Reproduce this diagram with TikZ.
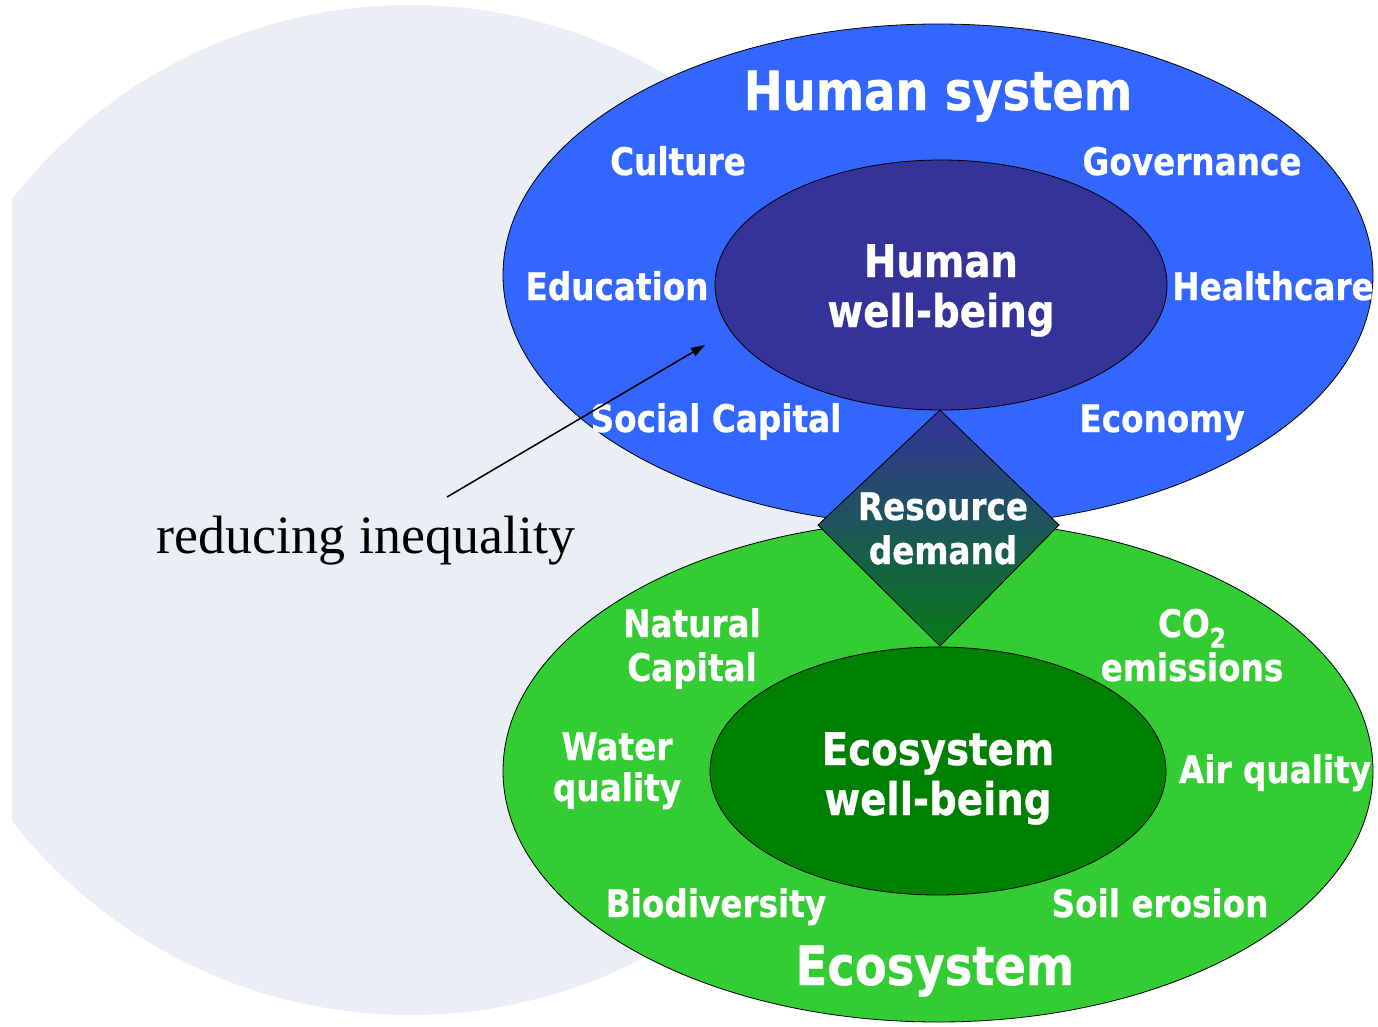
\documentclass[tikz,border=0pt]{standalone}
\usepackage{fontspec}
\setmainfont{Liberation Serif}
\newfontfamily\vf{DejaVu Sans}[FakeStretch=0.86, BoldFeatures={FakeBold=0.7}]
\usetikzlibrary{arrows.meta}
\definecolor{pale}{HTML}{EAEFF6}
\definecolor{hblue}{HTML}{3366FF}
\definecolor{hdark}{HTML}{333399}
\definecolor{egreen}{HTML}{33CC33}
\definecolor{edark}{HTML}{008000}
\definecolor{ddark}{HTML}{067A16}
\tikzset{
  lbl/.style={font=\vf\bfseries\fontsize{38}{44}\selectfont, text=white, inner sep=0pt, anchor=base, align=center},
  innertxt/.style={lbl, font=\vf\bfseries\fontsize{45}{50}\selectfont},
  titletxt/.style={lbl, font=\vf\bfseries\fontsize{54}{60}\selectfont},
  outline/.style={draw=black, line width=0.8pt},
  annot/.style={font=\fontsize{54}{60}\selectfont, text=black, inner sep=0pt, anchor=base},
  pointer/.style={draw=black, line width=1.5pt, -{Triangle[length=14pt, width=9pt]}}
}
\begin{document}
\begin{tikzpicture}[x=1pt, y=-1pt]
\useasboundingbox (0,0) rectangle (1378,1026);
% pale background disc, cut at the left
\begin{scope}
  \clip (12,0) rectangle (1378,1026);
  \fill[pale] (410,510) circle [x radius=505pt, y radius=505pt];
\end{scope}
% outer ellipses
\path[outline, fill=hblue] (938,275) ellipse [x radius=435pt, y radius=251pt];
\path[outline, fill=egreen] (938,771) ellipse [x radius=435pt, y radius=251pt];
% inner ellipses
\path[outline, fill=hdark] (941,285) ellipse [x radius=226pt, y radius=125pt];
\path[outline, fill=edark] (938,771) ellipse [x radius=228pt, y radius=124pt];
% diamond
\path[outline, top color=hdark, bottom color=ddark] (940,410) -- (1059,525) -- (940,646) -- (818,525) -- cycle;
% titles
\node[titletxt] (hsys) at (938,110) {Human system};
\node[titletxt] (esys) at (935,985) {Ecosystem};
% human labels
\node[lbl] (culture) at (678,175) {Culture};
\node[lbl] (gov) at (1192,175) {Governance};
\node[lbl] (edu) at (617,300) {Education};
\node[lbl] (health) at (1273,300) {Healthcare};
\node[lbl] (social) at (716,432) {Social Capital};
\node[lbl] (econ) at (1162,432) {Economy};
\node[innertxt] (hwb) at (941,327) {Human\\well-being};
% diamond
\node[lbl] (res) at (943,564) {Resource\\demand};
% eco labels
\node[lbl] (natcap) at (692,681) {Natural\\Capital};
\node[lbl] (co2) at (1192,681) {CO\raisebox{-0.28em}{\fontsize{27}{27}\selectfont 2}\\emissions};
\node[lbl, font=\vf\bfseries\fontsize{38}{41}\selectfont] (water) at (617,801) {Water\\quality};
\node[lbl] (air) at (1275,783) {Air quality};
\node[innertxt] (ewb) at (938,815) {Ecosystem\\well-being};
\node[lbl] (bio) at (716,917) {Biodiversity};
\node[lbl] (soil) at (1160,917) {Soil erosion};
% annotation
\node[annot] (ineq) at (366,553) {reducing inequality};
\coordinate (pstart) at (447,497);
\coordinate (pend) at (705,345);
\draw[pointer] (pstart) -- (pend);
\end{tikzpicture}
\end{document}
